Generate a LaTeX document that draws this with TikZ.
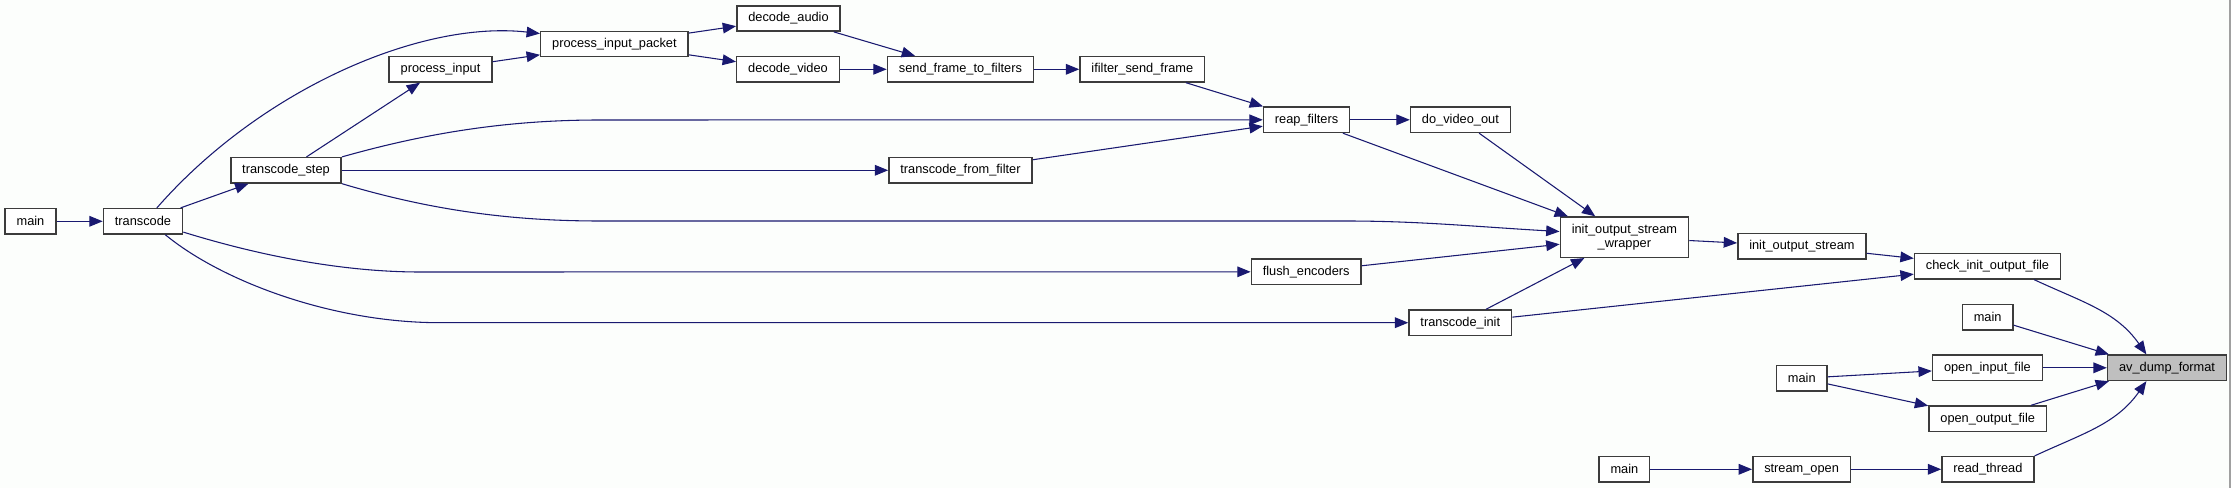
\documentclass[tikz,border=0pt]{standalone}
\usepackage{fontspec}
\setmainfont{Liberation Sans}
\usepackage{tikz}
\usetikzlibrary{arrows.meta}
\usepackage{xcolor}
\definecolor{azul}{HTML}{191970}
\definecolor{borde}{HTML}{3C3C3C}
\definecolor{raiz}{HTML}{BFBFBF}
\definecolor{fondo}{HTML}{FCFEFC}
\definecolor{marco}{HTML}{A0A0A0}

\begin{document}
\begin{tikzpicture}[x=0.75pt,y=-0.75pt,
    fn/.style={draw=borde,line width=1.1pt,fill=white,minimum height=19pt,inner xsep=8.6pt,inner ysep=2pt,font=\fontsize{9.6}{11}\selectfont},
    call/.style={-{Triangle[length=10pt,width=8pt]},azul,line width=0.8pt}]
      \fill[fondo] (0,0) rectangle (2231,488);
      \useasboundingbox (0,0) rectangle (2231,488);
      \draw[marco,line width=1.5pt] (2230,0) -- (2230,488);

      \node[fn] (mainA) at (30.5,221.3) {main};
      \node[fn] (transcode) at (143,221.3) {transcode};
      \node[fn] (tcstep) at (286,170.3) {transcode\_step};
      \node[fn] (procinput) at (440.5,69.3) {process\_input};
      \node[fn] (procpacket) at (614.4,44) {process\_input\_packet};
      \node[fn] (decaudio) at (788.5,18.5) {decode\_audio};
      \node[fn] (decvideo) at (788,69.3) {decode\_video};
      \node[fn] (sendframe) at (960.4,69.3) {send\_frame\_to\_filters};
      \node[fn] (ifilter) at (1142.3,69.3) {ifilter\_send\_frame};
      \node[fn] (reap) at (1306.6,119.8) {reap\_filters};
      \node[fn] (dovideo) at (1460.4,119.8) {do\_video\_out};
      \node[fn] (fromfilter) at (960.5,170.3) {transcode\_from\_filter};
      \node[fn] (flush) at (1306.2,271.8) {flush\_encoders};
      \node[fn] (tcinit) at (1460.3,322.7) {transcode\_init};
      \node[fn,align=center,minimum height=30.2pt] (wrapper) at (1624.4,237.2) {init\_output\_stream\\\_wrapper};
      \node[fn] (initstream) at (1801.9,246.3) {init\_output\_stream};
      \node[fn] (checkinit) at (1987.5,266.3) {check\_init\_output\_file};
      \node[fn] (mainB) at (1987.6,317.2) {main};
      \node[fn,fill=raiz] (avdump) at (2167,367.8) {av\_dump\_format};
      \node[fn] (openin) at (1987.4,367.8) {open\_input\_file};
      \node[fn] (mainC) at (1801.8,378.3) {main};
      \node[fn] (openout) at (1987.7,418.7) {open\_output\_file};
      \node[fn] (mainD) at (1624.4,469.3) {main};
      \node[fn] (streamopen) at (1801.6,469.3) {stream\_open};
      \node[fn] (readthread) at (1987.9,469.3) {read\_thread};

      \draw[call] (mainA) -- (transcode);
      \draw[call] (transcode) -- (tcstep);
      \draw[call] (transcode.44) .. controls (260,90) and (420,20) .. (procpacket.172);
      \draw[call] (transcode.-15) .. controls (280,262) and (360,272) .. (420,272) -- (flush);
      \draw[call] (transcode.-31) .. controls (220,280) and (330,322.7) .. (440,322.7) -- (tcinit);
      \draw[call] (tcstep) -- (procinput);
      \draw[call] (tcstep.north east) .. controls (430,132) and (510,120) .. (600,120) -- (reap);
      \draw[call] (tcstep) -- (fromfilter);
      \draw[call] (tcstep.south east) .. controls (430,210) and (510,221) .. (600,221) -- (1346,221) .. controls (1420,221) and (1480,227) .. (wrapper.175);
      \draw[call] (procinput) -- (procpacket);
      \draw[call] (procpacket) -- (decaudio);
      \draw[call] (procpacket) -- (decvideo);
      \draw[call] (decaudio) -- (sendframe);
      \draw[call] (decvideo) -- (sendframe);
      \draw[call] (sendframe) -- (ifilter);
      \draw[call] (ifilter) -- (reap);
      \draw[call] (fromfilter) -- (reap);
      \draw[call] (reap) -- (dovideo);
      \draw[call] (reap) -- (wrapper);
      \draw[call] (dovideo) -- (wrapper);
      \draw[call] (flush) -- (wrapper);
      \draw[call] (tcinit) -- (wrapper);
      \draw[call] (wrapper) -- (initstream);
      \draw[call] (initstream) -- (checkinit);
      \draw[call] (tcinit) -- (checkinit);
      \draw[call] (checkinit.-16) to[out=-25,in=125] (avdump.147);
      \draw[call] (mainB) -- (avdump.167);
      \draw[call] (openin) -- (avdump);
      \draw[call] (openout) -- (avdump.-167);
      \draw[call] (readthread.north east) to[out=25,in=-125] (avdump.-147);
      \draw[call] (mainC) -- (openin);
      \draw[call] (mainC) -- (openout);
      \draw[call] (mainD) -- (streamopen);
      \draw[call] (streamopen) -- (readthread);
    \end{tikzpicture}
\end{document}
